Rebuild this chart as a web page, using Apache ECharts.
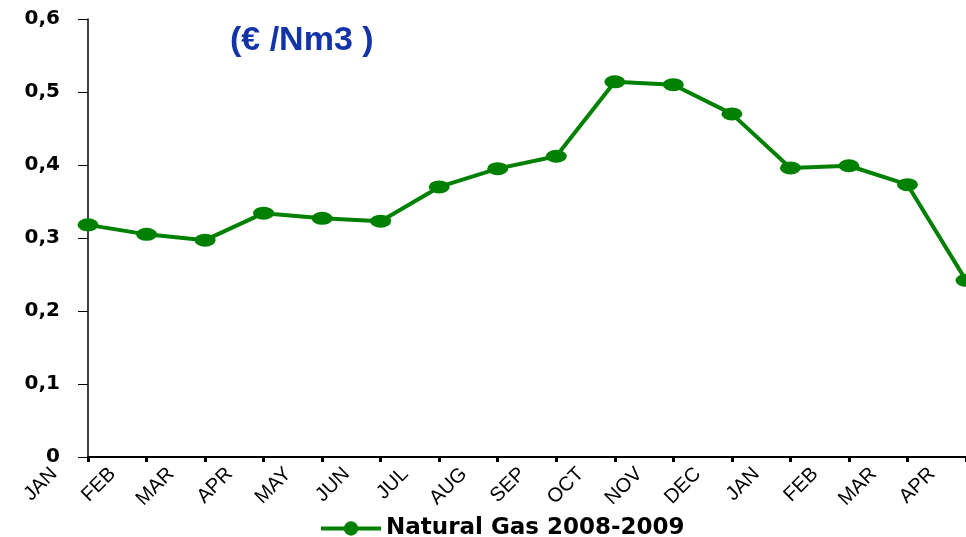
<!DOCTYPE html>
<html>
<head>
<meta charset="utf-8">
<script src="https://cdn.jsdelivr.net/npm/echarts@6/dist/echarts.min.js"></script>
<style>
  html, body { margin: 0; padding: 0; background: #fff; }
  #chart { width: 966px; height: 537px; }
</style>
</head>
<body>
<div id="chart"></div>
<script>
  // months, Jan 2008 .. Apr 2009
  var months = ["JAN", "FEB", "MAR", "APR", "MAY", "JUN", "JUL", "AUG",
                "SEP", "OCT", "NOV", "DEC", "JAN", "FEB", "MAR", "APR"];
  var gasPrice = [0.318, 0.305, 0.297, 0.334, 0.327, 0.323, 0.370, 0.395,
                  0.412, 0.514, 0.510, 0.470, 0.396, 0.399, 0.373, 0.242];
  var seriesName = "Natural Gas 2008-2009";
  var unitTitle = "(€ /Nm3 )";

  var chart = echarts.init(document.getElementById("chart"));

  chart.setOption({
    animation: false,
    title: {
      text: unitTitle,
      left: 225,
      top: 19,
      textStyle: {
        color: "#1234a8",
        fontFamily: "Liberation Sans",
        fontWeight: "bold",
        fontSize: 34
      }
    },
    legend: {
      data: [seriesName],
      left: 314,
      top: 512,
      itemWidth: 60,
      itemHeight: 18,
      itemGap: 8,
      lineStyle: { width: 4 },
      textStyle: {
        color: "#000",
        fontFamily: "DejaVu Sans",
        fontWeight: "bold",
        fontSize: 23
      }
    },
    grid: [
      { left: 88, right: 0, top: 19, bottom: 80 },
      // label-only grid, shifted left like the original labels
      { left: 54, right: 34, top: 19, bottom: 80 }
    ],
    xAxis: [
      {
        type: "category",
        gridIndex: 0,
        data: months,
        boundaryGap: false,
        axisLine: { lineStyle: { color: "#000", width: 2 } },
        axisTick: { show: true, length: 5, lineStyle: { color: "#000", width: 3 } },
        axisLabel: { show: false },
        splitLine: { show: false }
      },
      {
        type: "category",
        gridIndex: 1,
        data: months,
        boundaryGap: false,
        axisLine: { show: false },
        axisTick: { show: false },
        splitLine: { show: false },
        axisLabel: {
          rotate: 45,
          margin: 14,
          interval: 0,
          color: "#000",
          fontFamily: "Liberation Sans",
          fontSize: 20
        }
      }
    ],
    yAxis: [
      {
        type: "value",
        gridIndex: 0,
        min: 0,
        max: 0.6,
        interval: 0.1,
        axisLine: { show: true, lineStyle: { color: "#000", width: 1.5 } },
        axisTick: { show: true, length: 10, lineStyle: { color: "#000", width: 1 } },
        splitLine: { show: false },
        axisLabel: {
          margin: 28,
          color: "#000",
          fontFamily: "DejaVu Sans",
          fontWeight: "bold",
          fontSize: 20,
          formatter: function (v) {
            return v === 0 ? "0" : v.toFixed(1).replace(".", ",");
          }
        }
      },
      {
        type: "value",
        gridIndex: 1,
        min: 0,
        max: 0.6,
        show: false
      }
    ],
    series: [
      {
        name: seriesName,
        type: "line",
        xAxisIndex: 0,
        yAxisIndex: 0,
        data: gasPrice,
        symbol: "circle",
        symbolSize: [21, 13],
        showAllSymbol: true,
        clip: false,
        itemStyle: { color: "#008000" },
        lineStyle: { color: "#008000", width: 4 }
      }
    ]
  });
</script>
</body>
</html>
